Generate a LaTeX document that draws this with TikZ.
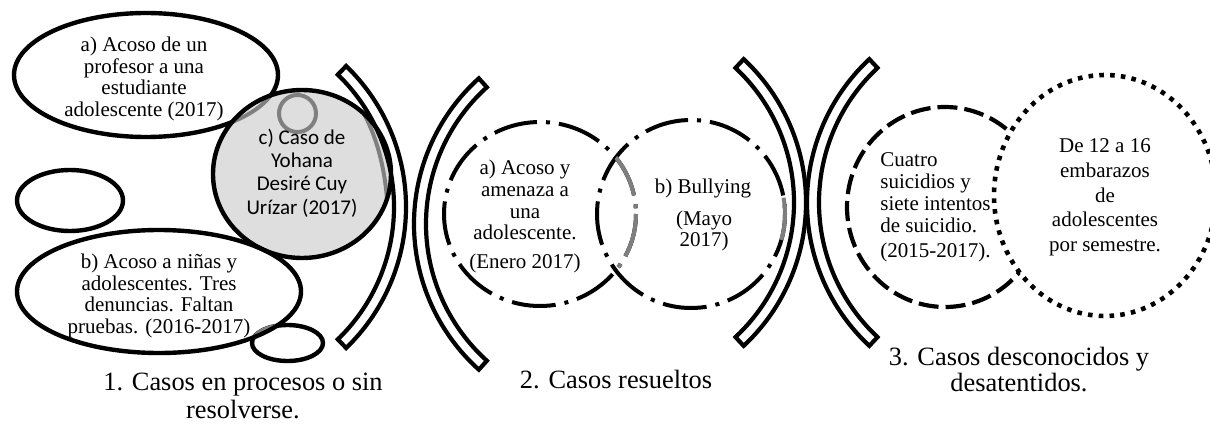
\documentclass[tikz,border=0pt]{standalone}
\usepackage{fontspec}
\setmainfont{Liberation Serif}
\newfontfamily\carl{Carlito}
\definecolor{gline}{HTML}{7F7F7F}
\definecolor{cfill}{HTML}{DEDEDE}
\begin{document}
\begin{tikzpicture}[x=0.5pt,y=-0.5pt,
  ln/.style={line width=2.2pt,draw=black},
  gln/.style={line width=2pt,draw=gline},
  ddot/.style={line width=2pt,dash pattern=on 22pt off 4.5pt on 2pt off 4.5pt},
  dsh/.style={line width=2.1pt,dash pattern=on 10pt off 3.5pt},
  dtt/.style={line width=2.3pt,dash pattern=on 2.3pt off 3.1pt},
  txt/.style={font=\fontsize{10.5}{10.9}\selectfont,align=center,inner sep=0pt},
  stxt/.style={font=\carl\fontsize{10.5}{11.65}\selectfont,align=center,inner sep=0pt},
  lbl/.style={font=\fontsize{13.2}{14}\selectfont,align=center,inner sep=0pt},
  brk/.style={line width=2.1pt,draw=black,line join=miter},
]
\useasboundingbox (0,0) rectangle (1210,423);

% group 1
\draw[ln] (146,75) ellipse[x radius=132,y radius=62];
\fill[cfill] (302,174) ellipse[x radius=89,y radius=84];
\begin{scope}
  \clip (302,174) ellipse[x radius=89,y radius=84];
  \draw[gln] (146,75) ellipse[x radius=132,y radius=62];
  \draw[gln] (345,85) .. controls (372,118) and (386,160) .. (388,215);
\end{scope}
\draw[ln] (302,174) ellipse[x radius=89,y radius=84];
\draw[gln] (297.5,113.5) circle[radius=18.5];
\draw[ln] (70,200.5) ellipse[x radius=53,y radius=30.5];
\draw[ln] (287.5,343) ellipse[x radius=35.5,y radius=18];
\begin{scope}
  \clip (159,291.5) ellipse[x radius=142,y radius=61.5];
  \draw[gln] (287.5,343) ellipse[x radius=35.5,y radius=18];
\end{scope}
\draw[ln] (159,291.5) ellipse[x radius=142,y radius=61.5];

% brackets
\draw[brk,shift={(210,207)}] (-46:196) arc[start angle=-46,end angle=46,radius=196] -- (46:184) arc[start angle=46,end angle=-46,radius=184] -- cycle;
\draw[brk,shift={(610,224)}] (132:196) arc[start angle=132,end angle=228,radius=196] -- (228:184) arc[start angle=228,end angle=132,radius=184] -- cycle;
\draw[brk,shift={(610,202.5)}] (-47:196) arc[start angle=-47,end angle=47,radius=196] -- (47:184) arc[start angle=47,end angle=-47,radius=184] -- cycle;
\draw[brk,shift={(1003,202.5)}] (133:196) arc[start angle=133,end angle=227,radius=196] -- (227:184) arc[start angle=227,end angle=133,radius=184] -- cycle;

% group 2
\draw[ddot] (540,214) ellipse[x radius=96,y radius=92];
\draw[ddot] (691,214) circle[radius=94];
\begin{scope}
  \clip (691,214) circle[radius=94];
  \draw[ddot,draw=gline] (540,214) ellipse[x radius=96,y radius=92];
\end{scope}
\draw[gln] (691,214) ++(-10:94) arc[start angle=-10,end angle=16,radius=94];

% group 3
\draw[dsh] (945,207) ellipse[x radius=98,y radius=100];
\draw[dtt,fill=white] (1105,195.5) ellipse[x radius=111,y radius=120.5];

% texts
\node[txt] (ta) at (144,79) {a) Acoso de un\\profesor a una\\estudiante\\adolescente (2017)};
\node[stxt] (tc) at (302,173) {c) Caso de\\Yohana\\Desiré Cuy\\Urízar (2017)};
\node[txt] (tb) at (159,296) {b) Acoso a niñas y\\adolescentes. Tres\\denuncias. Faltan\\pruebas. (2016-2017)};
\node[txt] (t2a) at (525,200) {a) Acoso y\\amenaza a\\una\\adolescente.};
\node[txt] (t2a2) at (525,263) {(Enero 2017)};
\node[txt] (t2b) at (703,188) {b) Bullying};
\node[txt] (t2b2) at (704,231) {(Mayo\\2017)};
\node[txt,align=left,anchor=west] (t3a) at (880,192.5) {Cuatro\\suicidios y\\siete intentos\\de suicidio.};
\node[txt,anchor=west] (t3a2) at (880,252) {(2015-2017).};
\node[txt,font=\fontsize{10.5}{12.35}\selectfont] (t3b) at (1105,197.5) {De 12 a 16\\embarazos\\de\\adolescentes\\por semestre.};
\node[lbl,font=\fontsize{13.2}{13.6}\selectfont] (l1) at (243,396) {1. Casos en procesos o sin\\resolverse.};
\node[lbl] (l2) at (616,380) {2. Casos resueltos};
\node[lbl,font=\fontsize{13.2}{13}\selectfont] (l3) at (1019,370) {3. Casos desconocidos y\\desatentidos.};
\end{tikzpicture}
\end{document}
